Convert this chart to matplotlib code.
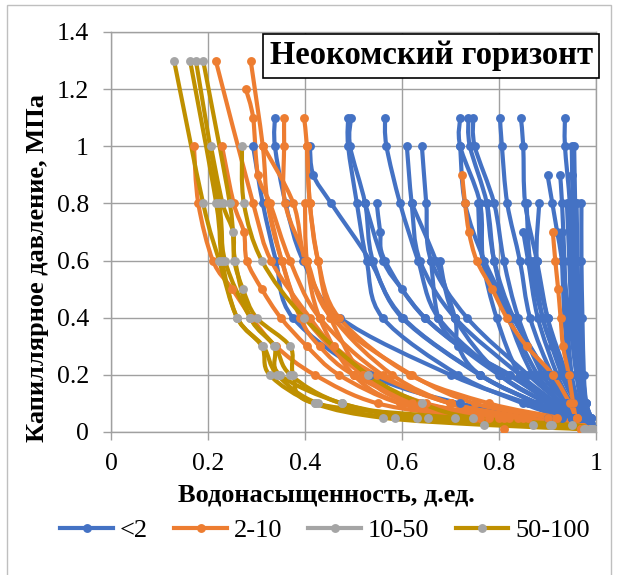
import matplotlib
matplotlib.use('Agg')
import matplotlib.pyplot as plt
from matplotlib.path import Path
from matplotlib.patches import PathPatch, Rectangle
from matplotlib.lines import Line2D

plt.rcParams['font.family'] = ['Liberation Serif', 'DejaVu Serif']

# capillary pressure levels (MPa) used by the samples
p11 = [1.1, 1.0, 0.8, 0.6, 0.4, 0.2, 0.1, 0.05, 0.01]
p10 = [1.0, 0.8, 0.6, 0.4, 0.2, 0.1, 0.05, 0.01]
p08 = [0.8, 0.6, 0.4, 0.2, 0.1, 0.05, 0.01]

# permeability < 2 mD
blue_pc = [
    p11, p10, [1.0, 0.9, 0.8, 0.6, 0.4, 0.2, 0.1, 0.05, 0.01], p11, p11, p11,
    [0.8, 0.7, 0.6, 0.4, 0.2, 0.1, 0.05, 0.01], p10, p10,
    [0.8, 0.6, 0.5, 0.4, 0.3, 0.2, 0.1, 0.05, 0.01],
    [0.8, 0.6, 0.4, 0.3, 0.2, 0.1, 0.05, 0.01],
    p11, p11, p11, p11, p11, p11, p10,
    [0.9, 0.8, 0.7, 0.6, 0.4, 0.2, 0.1, 0.05, 0.01],
    [0.9, 0.8, 0.6, 0.4, 0.2, 0.1, 0.05, 0.01],
    p08, p08, p08, p08, p08,
    [0.7, 0.6, 0.4, 0.2, 0.1, 0.05, 0.01],
    [0.6, 0.4, 0.2, 0.1, 0.05, 0.01],
    [0.6, 0.4, 0.3, 0.2, 0.1, 0.05, 0.01],
    [0.7, 0.6, 0.4, 0.2, 0.1, 0.05, 0.01],
    p10, p08, p08, p08, p10,
    [0.9, 0.8, 0.6, 0.4, 0.2, 0.1, 0.05, 0.01],
    [0.6, 0.4, 0.3, 0.2, 0.1, 0.05, 0.01],
]
blue_sw = [
    [0.338, 0.338, 0.36, 0.396, 0.472, 0.70, 0.86, 0.95, 0.99],
    [0.293, 0.313, 0.34, 0.375, 0.534, 0.72, 0.90, 0.99],
    [0.41, 0.417, 0.454, 0.534, 0.60, 0.76, 0.88, 0.95, 0.99],
    [0.489, 0.489, 0.507, 0.527, 0.56, 0.716, 0.85, 0.93, 0.98],
    [0.495, 0.493, 0.524, 0.54, 0.602, 0.761, 0.88, 0.95, 0.99],
    [0.565, 0.568, 0.596, 0.633, 0.675, 0.802, 0.90, 0.96, 0.99],
    [0.548, 0.555, 0.565, 0.647, 0.80, 0.90, 0.96, 0.99],
    [0.61, 0.62, 0.637, 0.709, 0.843, 0.92, 0.97, 0.99],
    [0.641, 0.65, 0.66, 0.734, 0.86, 0.93, 0.97, 0.995],
    [0.524, 0.561, 0.60, 0.647, 0.72, 0.82, 0.91, 0.96, 0.99],
    [0.62, 0.67, 0.709, 0.716, 0.761, 0.88, 0.95, 0.99],
    [0.72, 0.72, 0.761, 0.767, 0.795, 0.843, 0.91, 0.96, 0.99],
    [0.737, 0.74, 0.775, 0.79, 0.82, 0.87, 0.93, 0.97, 0.995],
    [0.747, 0.75, 0.79, 0.81, 0.84, 0.89, 0.94, 0.97, 0.99],
    [0.802, 0.806, 0.817, 0.843, 0.864, 0.91, 0.95, 0.98, 0.995],
    [0.845, 0.85, 0.854, 0.878, 0.90, 0.93, 0.96, 0.98, 0.995],
    [0.936, 0.936, 0.946, 0.95, 0.96, 0.965, 0.975, 0.985, 0.995],
    [0.955, 0.957, 0.96, 0.967, 0.973, 0.98, 0.99, 1.0],
    [0.90, 0.91, 0.92, 0.93, 0.945, 0.96, 0.975, 0.985, 0.995],
    [0.926, 0.93, 0.935, 0.94, 0.95, 0.965, 0.98, 0.99],
    [0.757, 0.767, 0.82, 0.88, 0.93, 0.965, 0.99],
    [0.857, 0.864, 0.89, 0.93, 0.96, 0.98, 1.0],
    [0.883, 0.878, 0.90, 0.94, 0.965, 0.98, 0.995],
    [0.775, 0.79, 0.83, 0.90, 0.94, 0.97, 0.99],
    [0.946, 0.95, 0.955, 0.965, 0.97, 0.98, 0.99],
    [0.85, 0.86, 0.88, 0.92, 0.95, 0.975, 0.99],
    [0.678, 0.709, 0.802, 0.90, 0.95, 0.99],
    [0.66, 0.675, 0.72, 0.823, 0.91, 0.96, 0.99],
    [0.929, 0.93, 0.935, 0.945, 0.955, 0.97, 0.985],
    [0.72, 0.73, 0.77, 0.83, 0.90, 0.94, 0.97, 0.99],
    [0.96, 0.962, 0.965, 0.97, 0.975, 0.985, 0.995],
    [0.97, 0.97, 0.972, 0.975, 0.98, 0.99, 1.0],
    [0.94, 0.945, 0.95, 0.96, 0.97, 0.98, 0.99],
    [0.95, 0.952, 0.955, 0.96, 0.965, 0.975, 0.985, 0.995],
    [0.95, 0.955, 0.96, 0.965, 0.97, 0.98, 0.99, 1.0],
    [0.87, 0.89, 0.91, 0.935, 0.96, 0.98, 0.995],
]

# permeability 2-10 mD
orange_pc = [
    [1.3, 0.8, 0.6, 0.4, 0.3, 0.2, 0.1, 0.05, 0.01],
    [1.3, 1.0, 0.8, 0.6, 0.4, 0.2, 0.1, 0.05, 0.01],
    [1.2, 1.1, 0.9, 0.8, 0.6, 0.4, 0.2, 0.1, 0.05, 0.01],
    p11, p11,
    [1.0, 0.8, 0.6, 0.5, 0.4, 0.3, 0.2, 0.1, 0.05, 0.01],
    [1.0, 0.8, 0.7, 0.6, 0.5, 0.4, 0.3, 0.2, 0.1, 0.05, 0.01],
    p10,
    [0.9, 0.8, 0.7, 0.6, 0.5, 0.4, 0.3, 0.2, 0.1, 0.05, 0.01],
    [0.7, 0.6, 0.5, 0.4, 0.3, 0.2, 0.1, 0.05, 0.01],
    p08,
    p10,
    [0.8, 0.6, 0.4, 0.3, 0.2, 0.1, 0.05, 0.01],
]
orange_sw = [
    [0.216, 0.293, 0.33, 0.41, 0.46, 0.548, 0.70, 0.85, 0.98],
    [0.288, 0.313, 0.323, 0.352, 0.40, 0.52, 0.65, 0.82, 0.97],
    [0.278, 0.293, 0.303, 0.328, 0.369, 0.43, 0.56, 0.70, 0.86, 0.98],
    [0.357, 0.357, 0.359, 0.404, 0.455, 0.62, 0.75, 0.90, 0.99],
    [0.398, 0.404, 0.41, 0.427, 0.47, 0.617, 0.78, 0.92, 0.99],
    [0.171, 0.18, 0.21, 0.25, 0.29, 0.34, 0.42, 0.55, 0.75, 0.97],
    [0.229, 0.253, 0.274, 0.28, 0.311, 0.35, 0.404, 0.47, 0.596, 0.76, 0.98],
    [0.314, 0.376, 0.40, 0.452, 0.52, 0.62, 0.80, 0.98],
    [0.724, 0.73, 0.738, 0.754, 0.786, 0.816, 0.857, 0.911, 0.946, 0.96, 0.985],
    [0.911, 0.916, 0.922, 0.927, 0.932, 0.944, 0.953, 0.96, 0.985],
    [0.40, 0.404, 0.43, 0.50, 0.60, 0.78, 0.97],
    [0.404, 0.41, 0.427, 0.46, 0.58, 0.699, 0.81, 0.81],
    [0.323, 0.352, 0.39, 0.43, 0.50, 0.64, 0.84, 0.99],
]

# permeability 10-50 mD and 50-100 mD
pg = [1.3, 0.8, 0.6, 0.4, 0.3, 0.2, 0.1, 0.05, 0.025, 0.01]
gray_pc = [
    [1.0, 0.8, 0.7, 0.6, 0.5, 0.4, 0.3, 0.2, 0.1, 0.05, 0.01],
    [1.0, 0.8, 0.6, 0.4, 0.2, 0.1, 0.05, 0.025, 0.01],
]
gray_sw = [
    [0.206, 0.23, 0.252, 0.254, 0.272, 0.30, 0.369, 0.376, 0.42, 0.709, 0.975],
    [0.27, 0.274, 0.311, 0.398, 0.53, 0.641, 0.747, 0.95, 0.99],
]
gold_pc = [pg, pg, pg, pg]
gold_sw = [
    [0.13, 0.19, 0.223, 0.26, 0.311, 0.327, 0.42, 0.56, 0.77, 0.98],
    [0.163, 0.217, 0.229, 0.26, 0.314, 0.343, 0.427, 0.585, 0.87, 0.99],
    [0.175, 0.223, 0.235, 0.287, 0.336, 0.348, 0.476, 0.63, 0.905, 0.995],
    [0.19, 0.245, 0.256, 0.287, 0.338, 0.37, 0.476, 0.654, 0.91, 0.99],
]

series_names = ['<2', '2-10', '10-50', '50-100']
c_blue, c_orange, c_gray, c_gold = '#4472C4', '#ED7D31', '#A5A5A5', '#BF9000'
LW, MS = 3.0, 6.4


def smooth_path(x, y):
    # Catmull-Rom curve through the points, written as cubic Bezier segments
    pts = list(zip(x, y))
    n = len(pts)
    verts = [pts[0]]
    codes = [Path.MOVETO]
    for i in range(n - 1):
        p0 = pts[max(i - 1, 0)]
        p1 = pts[i]
        p2 = pts[i + 1]
        p3 = pts[min(i + 2, n - 1)]
        c1 = (p1[0] + (p2[0] - p0[0]) / 6, p1[1] + (p2[1] - p0[1]) / 6)
        c2 = (p2[0] - (p3[0] - p1[0]) / 6, p2[1] - (p3[1] - p1[1]) / 6)
        verts += [c1, c2, p2]
        codes += [Path.CURVE4] * 3
    return Path(verts, codes)


fig = plt.figure(figsize=(6.17, 5.75), dpi=100)
ax = fig.add_axes([111 / 617, 1 - 432 / 575, 485 / 617, 400 / 575])


def draw_group(sw_list, pc_list, line_color, marker_color):
    for sw, pc in zip(sw_list, pc_list):
        ax.add_patch(PathPatch(smooth_path(sw, pc), fill=False,
                               edgecolor=line_color, lw=LW, zorder=2,
                               capstyle='round', joinstyle='round'))
        ax.plot(sw, pc, 'o', color=marker_color, ms=MS, mew=0, zorder=3)


draw_group(blue_sw, blue_pc, c_blue, c_blue)
draw_group(orange_sw, orange_pc, c_orange, c_orange)
draw_group(gray_sw, gray_pc, c_gold, c_gray)
draw_group(gold_sw, gold_pc, c_gold, c_gray)

ax.set_xlim(0, 1)
ax.set_ylim(0, 1.4)
ax.set_xticks([0, 0.2, 0.4, 0.6, 0.8, 1.0])
ax.set_xticklabels(['0', '0.2', '0.4', '0.6', '0.8', '1'])
ax.set_yticks([0, 0.2, 0.4, 0.6, 0.8, 1.0, 1.2, 1.4])
ax.set_yticklabels(['0', '0.2', '0.4', '0.6', '0.8', '1', '1.2', '1.4'])
ax.grid(True, color='#A0A0A0', lw=1)
ax.set_axisbelow(True)
for s in ax.spines.values():
    s.set_color('#A0A0A0')
    s.set_linewidth(1)
ax.tick_params(length=6, width=1, color='#A0A0A0', labelsize=18.5)
ax.tick_params(axis='x', pad=9)
ax.tick_params(axis='y', pad=10)

ax.set_xlabel('Водонасыщенность, д.ед.', fontsize=19, fontweight='bold')
ax.xaxis.set_label_coords(215 / 485, -51 / 400)
ax.set_ylabel('Капиллярное давление, МПа', fontsize=19, fontweight='bold')
ax.yaxis.set_label_coords(-62 / 485, 164 / 400)

ax.text(0.66, 0.941, 'Неокомский горизонт', transform=ax.transAxes,
        ha='center', va='center', fontsize=23.5, fontweight='bold', zorder=5,
        bbox=dict(boxstyle='square,pad=0.2', fc='white', ec='black', lw=1.2))

handles = [
    Line2D([], [], color=c_blue, lw=LW, marker='o', ms=MS, mew=0),
    Line2D([], [], color=c_orange, lw=LW, marker='o', ms=MS, mew=0),
    Line2D([], [], color=c_gray, lw=LW, marker='o', ms=MS, mew=0),
    Line2D([], [], color=c_gold, lw=LW, marker='o', ms=MS, mew=0, mfc=c_gray),
]
fig.legend(handles, series_names, loc='center', bbox_to_anchor=(325 / 617, 1 - 530 / 575),
           ncol=4, frameon=False, fontsize=19, handlelength=2.0,
           handletextpad=0.25, columnspacing=1.0, numpoints=1)

fig.add_artist(Rectangle((7 / 617, -0.05), 604 / 617, 1.05 - 5 / 575,
                         transform=fig.transFigure, fill=False,
                         ec='#BFBFBF', lw=1))

fig.savefig('out.png', dpi=100)
